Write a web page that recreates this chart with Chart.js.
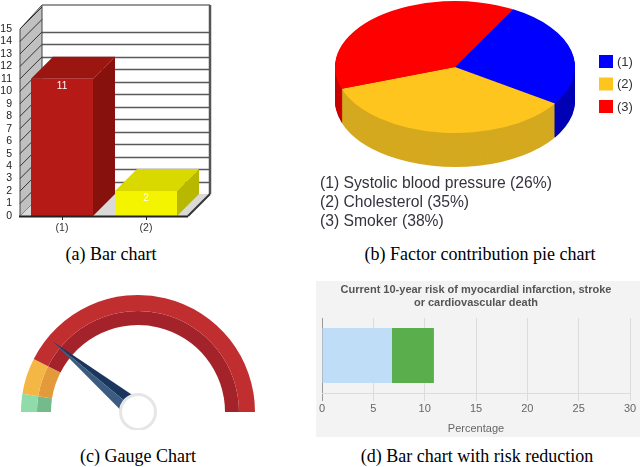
<!DOCTYPE html>
<html><head><meta charset="utf-8">
<script src="https://cdn.jsdelivr.net/npm/chart.js@4.4.1/dist/chart.umd.min.js"></script>
<style>
html,body{margin:0;padding:0;background:#fff;}
body{width:640px;height:467px;position:relative;overflow:hidden;}
canvas{position:absolute;}
.cap{position:absolute;font-family:'Liberation Serif','Times New Roman',serif;font-size:18px;line-height:18px;color:#000;white-space:nowrap;transform:translateX(-50%);}
</style></head><body>
<canvas id="cA" width="230" height="240" style="left:0;top:0"></canvas>
<canvas id="cB" width="330" height="240" style="left:310px;top:0"></canvas>
<canvas id="cC" width="300" height="150" style="left:0;top:280px"></canvas>
<canvas id="cD" width="324" height="156" style="left:316px;top:281px;background:#f3f3f3"></canvas>
<div class="cap" style="left:111px;top:245px">(a) Bar chart</div>
<div class="cap" style="left:480px;top:245px">(b) Factor contribution pie chart</div>
<div class="cap" style="left:138px;top:447px">(c) Gauge Chart</div>
<div class="cap" style="left:477px;top:447px">(d) Bar chart with risk reduction</div>
<script>
// ---------- data ----------
const barLabels = ['(1)', '(2)'];
const barValues = [11, 2];
const barAxisMax = 15;

const pieLabels = ['(1)', '(2)', '(3)'];
const pieFactors = ['Systolic blood pressure', 'Cholesterol', 'Smoker'];
const pieValues = [26, 35, 38];

const gaugeLabels = ['low', 'medium', 'high'];
const gaugeBands = [9, 18, 153];
const gaugeNeedle = 39.5;

const riskLabels = [''];
const riskAfterReduction = [6.8];
const riskReduction = [4.1];
const riskAxisMax = 30;
const riskTitle = ['Current 10-year risk of myocardial infarction, stroke', 'or cardiovascular death'];
const riskAxisTitle = 'Percentage';

Chart.defaults.font.family = "'Liberation Sans', Arial, sans-serif";
Chart.defaults.animation = false;

function poly(ctx, pts, fill, stroke, lw) {
  ctx.beginPath();
  pts.forEach((p, i) => i ? ctx.lineTo(p[0], p[1]) : ctx.moveTo(p[0], p[1]));
  ctx.closePath();
  if (fill) { ctx.fillStyle = fill; ctx.fill(); }
  if (stroke) { ctx.strokeStyle = stroke; ctx.lineWidth = lw || 1; ctx.stroke(); }
}
function line(ctx, x1, y1, x2, y2, c, lw) {
  ctx.beginPath(); ctx.moveTo(x1, y1); ctx.lineTo(x2, y2);
  ctx.strokeStyle = c; ctx.lineWidth = lw; ctx.stroke();
}

// ---------- (a) 3D bar chart ----------
const D = 22;
const barFront = ['#b51a16', '#f4f400'];
const barTop = ['#9b1511', '#d9d900'];
const barSide = ['#87110d', '#b8b800'];
const bar3d = {
  id: 'bar3d',
  beforeDatasetsDraw(chart) {
    const ctx = chart.ctx, a = chart.chartArea, y = chart.scales.y;
    const L = a.left, R = a.right, T = a.top, B = a.bottom;
    ctx.save();
    ctx.fillStyle = '#fff';
    ctx.fillRect(L + D, T - D - 2, R - L, B - T + 2);
    y.ticks.forEach(t => {
      if (t.value === 0 || t.value === 14 || t.value === barAxisMax) return;
      const py = Math.round(y.getPixelForValue(t.value) - D) + 0.5;
      line(ctx, L + D, py, R + D, py, '#5a5a5a', 1.4);
    });
    poly(ctx, [[L, T], [L + D, T - D - 2], [L + D, B - D], [L, B]], '#c0c0c0', '#444', 1);
    y.ticks.forEach(t => {
      const py = y.getPixelForValue(t.value);
      line(ctx, L, py, L + D, py - D, '#333', 1);
    });
    poly(ctx, [[L, B], [L + D, B - D], [R + D, B - D], [R, B]], '#d9d9d9');
    line(ctx, L + D, T - D - 2, R + D, T - D - 2, '#777', 1.5);
    line(ctx, R + D, T - D - 2, R + D, B - D, '#555', 2.5);
    line(ctx, R, B, R + D, B - D, '#333', 2);
    const meta = chart.getDatasetMeta(0);
    meta.data.forEach((bar, i) => {
      const p = bar.getProps(['x', 'y', 'base', 'width'], true);
      const xl = p.x - p.width / 2, xr = p.x + p.width / 2;
      poly(ctx, [[xl, p.y], [xl + D, p.y - D], [xr + D, p.y - D], [xr, p.y]], barTop[i]);
      poly(ctx, [[xr, p.y], [xr + D, p.y - D], [xr + D, p.base - D], [xr, p.base]], barSide[i]);
    });
    ctx.restore();
  },
  afterDatasetsDraw(chart) {
    const ctx = chart.ctx, a = chart.chartArea, x = chart.scales.x;
    ctx.save();
    line(ctx, a.left - 1, a.bottom + 0.5, a.right, a.bottom + 0.5, '#222', 2);
    x.ticks.forEach((t, i) => {
      const px = Math.round(x.getPixelForTick(i)) + 0.5;
      line(ctx, px, a.bottom, px, a.bottom + 4, '#222', 1);
    });
    const meta = chart.getDatasetMeta(0);
    ctx.fillStyle = '#fff';
    ctx.font = "10px 'Liberation Sans', Arial, sans-serif";
    ctx.textAlign = 'center'; ctx.textBaseline = 'middle';
    meta.data.forEach((bar, i) => {
      ctx.fillText(String(barValues[i]), bar.x, bar.y + 7);
    });
    ctx.restore();
  }
};
new Chart(document.getElementById('cA'), {
  type: 'bar',
  data: { labels: barLabels, datasets: [{ data: barValues, backgroundColor: barFront, borderWidth: 0, categoryPercentage: 1, barPercentage: 0.738 }] },
  options: {
    responsive: false, events: [],
    layout: { padding: { top: 29, right: 42, left: 0, bottom: 0 } },
    plugins: { legend: { display: false }, tooltip: { enabled: false } },
    scales: {
      x: { grid: { display: false, drawTicks: false }, border: { display: false },
           ticks: { padding: 6, color: '#333', font: { size: 10.5 } },
           afterFit(s) { s.height = 24; s.paddingLeft = 0; s.paddingRight = 0; } },
      y: { min: 0, max: barAxisMax, ticks: { stepSize: 1, padding: 8, color: '#222', font: { size: 10.5 }, autoSkip: false },
           grid: { display: false, drawTicks: false }, border: { display: false },
           afterFit(s) { s.width = 20; s.paddingTop = 0; s.paddingBottom = 0; } }
    }
  },
  plugins: [bar3d]
});

// ---------- (b) 3D pie ----------
const pieTop = ['#0000ff', '#fdc51d', '#ff0000'];
const pieSide = ['#0000b4', '#d5a91f', '#c80000'];
const PIE_CY = 67, SQ = 0.55, DEPTH = 34;
const pie3d = {
  id: 'pie3d',
  beforeDatasetsDraw(chart) {
    const ctx = chart.ctx, meta = chart.getDatasetMeta(0);
    const cy = meta.data[0].y;
    ctx.save();
    ctx.translate(0, PIE_CY); ctx.scale(1, SQ); ctx.translate(0, -cy);
    for (let k = DEPTH; k >= 1; k--) {
      const off = k / SQ;
      meta.data.forEach((arc, i) => {
        ctx.beginPath();
        ctx.moveTo(arc.x, arc.y + off);
        ctx.arc(arc.x, arc.y + off, arc.outerRadius, arc.startAngle, arc.endAngle);
        ctx.closePath();
        ctx.fillStyle = pieSide[i]; ctx.fill();
      });
    }
  },
  afterDatasetsDraw(chart) {
    const ctx = chart.ctx;
    ctx.restore();
    ctx.save();
    ctx.font = "13px 'Liberation Sans', Arial, sans-serif";
    ctx.textBaseline = 'middle'; ctx.textAlign = 'left';
    pieLabels.forEach((lab, i) => {
      const yy = 55 + i * 22.5;
      ctx.fillStyle = pieTop[i];
      ctx.fillRect(289, yy, 14, 13);
      ctx.fillStyle = '#333';
      ctx.fillText(lab, 307, yy + 7);
    });
    ctx.font = "15.7px 'Liberation Sans', Arial, sans-serif";
    ctx.fillStyle = '#34343f';
    pieFactors.forEach((f, i) => {
      ctx.fillText(pieLabels[i] + ' ' + f + ' (' + pieValues[i] + '%)', 10, 183.5 + i * 19);
    });
    ctx.restore();
  }
};
new Chart(document.getElementById('cB'), {
  type: 'pie',
  data: { labels: pieLabels, datasets: [{ data: pieValues, backgroundColor: pieTop, borderWidth: 0, clip: false }] },
  options: {
    responsive: false, events: [], rotation: 29,
    layout: { padding: { left: 25, right: 65, top: 0, bottom: 0 } },
    plugins: { legend: { display: false }, tooltip: { enabled: false } }
  },
  plugins: [pie3d]
});

// ---------- (c) gauge ----------
const gaugeOuter = ['#8fdca9', '#f4b644', '#c12e2f'];
const gaugeInner = ['#74ba8b', '#e39a3b', '#a42229'];
const needle = {
  id: 'needle',
  afterDatasetsDraw(chart) {
    const ctx = chart.ctx, meta = chart.getDatasetMeta(0);
    const first = meta.data[0], last = meta.data[meta.data.length - 1];
    const total = gaugeBands.reduce((s, v) => s + v, 0);
    const ang = first.startAngle + (gaugeNeedle / total) * (last.endAngle - first.startAngle);
    const cx = first.x, cy = first.y, len = first.outerRadius * 0.953, w = 11;
    const ux = Math.cos(ang), uy = Math.sin(ang), nx = -uy, ny = ux;
    const tip = [cx + ux * len, cy + uy * len];
    ctx.save();
    const s1 = [cx + nx * w, cy + ny * w], s2 = [cx - nx * w, cy - ny * w];
    const up = s1[1] < s2[1] ? s1 : s2, dn = s1[1] < s2[1] ? s2 : s1;
    poly(ctx, [tip, [cx, cy], up], '#1b365d');
    poly(ctx, [tip, [cx, cy], dn], '#3c5b81');
    ctx.beginPath(); ctx.arc(cx, cy, 17.5, 0, Math.PI * 2);
    ctx.fillStyle = '#fff'; ctx.fill();
    ctx.lineWidth = 3; ctx.strokeStyle = '#e6e6e6'; ctx.stroke();
    ctx.restore();
  }
};
new Chart(document.getElementById('cC'), {
  type: 'doughnut',
  data: { labels: gaugeLabels, datasets: [
    { data: gaugeBands, backgroundColor: gaugeOuter, borderWidth: 0, weight: 16 },
    { data: gaugeBands, backgroundColor: gaugeInner, borderWidth: 0, weight: 14 }
  ] },
  options: {
    responsive: false, events: [], rotation: -90, circumference: 180, cutout: '74.36%',
    layout: { padding: { left: 21, top: 15, right: 45, bottom: 18 } },
    plugins: { legend: { display: false }, tooltip: { enabled: false } }
  },
  plugins: [needle]
});

// ---------- (d) risk bar ----------
new Chart(document.getElementById('cD'), {
  type: 'bar',
  data: { labels: riskLabels, datasets: [
    { label: 'Risk after reduction', data: riskAfterReduction, backgroundColor: '#c0ddf8', borderWidth: 0 },
    { label: 'Reduction', data: riskReduction, backgroundColor: '#5aae4c', borderWidth: 0 }
  ] },
  options: {
    responsive: false, events: [], indexAxis: 'y',
    datasets: { bar: { categoryPercentage: 0.8, barPercentage: 0.917 } },
    layout: { padding: { left: 6, right: 10, top: 0, bottom: 0 } },
    plugins: {
      legend: { display: false }, tooltip: { enabled: false },
      title: { display: true, text: riskTitle, color: '#555', font: { size: 11, weight: 'bold', lineHeight: 1.18 }, padding: { top: 2, bottom: 9 } }
    },
    scales: {
      x: { stacked: true, min: 0, max: riskAxisMax,
           ticks: { stepSize: 5, color: '#666', font: { size: 11 }, padding: 1 },
           grid: { color: c => c.index === 0 ? '#9a9a9a' : '#dcdcdc', tickLength: 8 },
           border: { display: true, color: '#dcdcdc' },
           title: { display: true, text: riskAxisTitle, color: '#666', font: { size: 11 }, padding: { top: 0, bottom: 1 } },
           afterFit(s) { s.height = 44; s.paddingLeft = 0; s.paddingRight = 0; } },
      y: { stacked: true, display: false }
    }
  }
});
</script>
</body></html>
